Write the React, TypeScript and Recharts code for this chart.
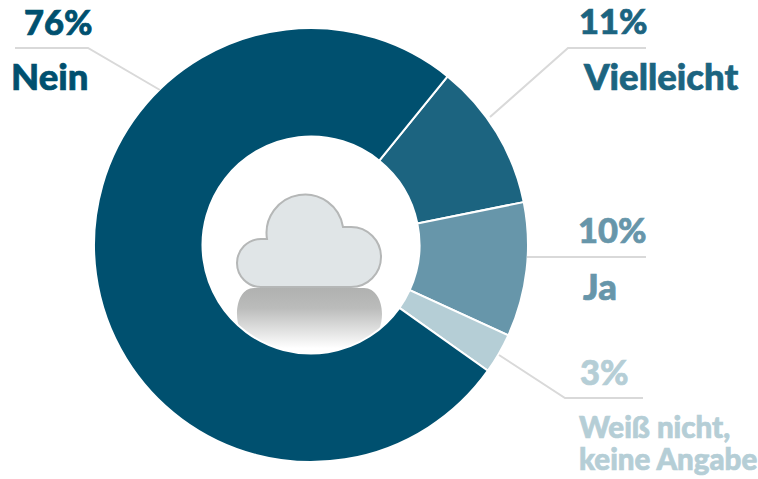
import React from "react";
import { PieChart, Pie, Cell, Customized } from "recharts";

const categories = ["Vielleicht", "Ja", "Weiß nicht, keine Angabe", "Nein"];
const values = [11, 10, 3, 76];
const percentLabels = ["11%", "10%", "3%", "76%"];
const nameLines = [["Vielleicht"], ["Ja"], ["Weiß nicht,", "keine Angabe"], ["Nein"]];
const colors = ["#1c6480", "#6796aa", "#b5ced6", "#00506f"];

const data = categories.map((name, i) => ({ name, value: values[i] }));

const FONT = "Lato, 'Open Sans', sans-serif";

const labelLayout = [
  { line: "490,117 568,48 646,48", px: 579, py: 34, nx: 584, ny: 90, ns: 36.5, lh: 0 },
  { line: "527,257 646,257", px: 578, py: 243, nx: 583, ny: 300, ns: 36.5, lh: 0 },
  { line: "499,355 565,398 643,398", px: 580, py: 385, nx: 579, ny: 438, ns: 29.5, lh: 32 },
  { line: "160,90 88,48 15,48", px: 24, py: 35, nx: 11, ny: 90, ns: 36.5, lh: 0 },
];

const renderLabel = (props: any) => {
  const i = props.index as number;
  const l = labelLayout[i];
  return (
    <g key={i} fontFamily={FONT} fontWeight={900} fill={colors[i]}>
      <polyline points={l.line} fill="none" stroke="#d9d9d9" strokeWidth={2} />
      <text x={l.px} y={l.py} fontSize={34.5} stroke={colors[i]} strokeWidth={0.7}>{percentLabels[i]}</text>
      {nameLines[i].map((t, k) => (
        <text key={t} x={l.nx} y={l.ny + k * l.lh} fontSize={l.ns} stroke={colors[i]} strokeWidth={0.7}>{t}</text>
      ))}
    </g>
  );
};

const Cloud = () => (
  <g>
    <defs>
      <linearGradient id="reflect" x1="0" y1="0" x2="0" y2="1">
        <stop offset="0" stopColor="#b0b1b0" />
        <stop offset="0.3" stopColor="#bbbcbb" />
        <stop offset="0.9" stopColor="#ffffff" />
      </linearGradient>
    </defs>
    <path
      d="M237 314 C237 300 243 288 254 288 L364 288 C375 288 382 300 382 314 C382 325 378 335 372 342 L372 355 L247 355 L247 342 C241 335 237 325 237 314 Z"
      fill="url(#reflect)"
    />
    <path
      d="M261 287 A24 24 0 0 1 261 239 L267 239 A38 38 0 0 1 343 227 L351 227 A30 30 0 0 1 351 287 Z"
      fill="#e0e5e7"
      stroke="#b5b7b7"
      strokeWidth={2}
    />
  </g>
);

export default function App() {
  return (
    <div style={{ position: "absolute", left: 0, top: 0 }}>
      <PieChart width={758} height={479} margin={{ top: 0, right: 0, bottom: 0, left: 0 }}>
        <Pie
          data={data}
          dataKey="value"
          nameKey="name"
          cx={311}
          cy={245}
          innerRadius={108.5}
          outerRadius={217}
          startAngle={51}
          endAngle={-309}
          stroke="#ffffff"
          strokeWidth={2}
          isAnimationActive={false}
          label={renderLabel}
          labelLine={false}
        >
          {data.map((d, i) => (
            <Cell key={d.name} fill={colors[i]} />
          ))}
        </Pie>
        <Customized component={Cloud} />
      </PieChart>
    </div>
  );
}
